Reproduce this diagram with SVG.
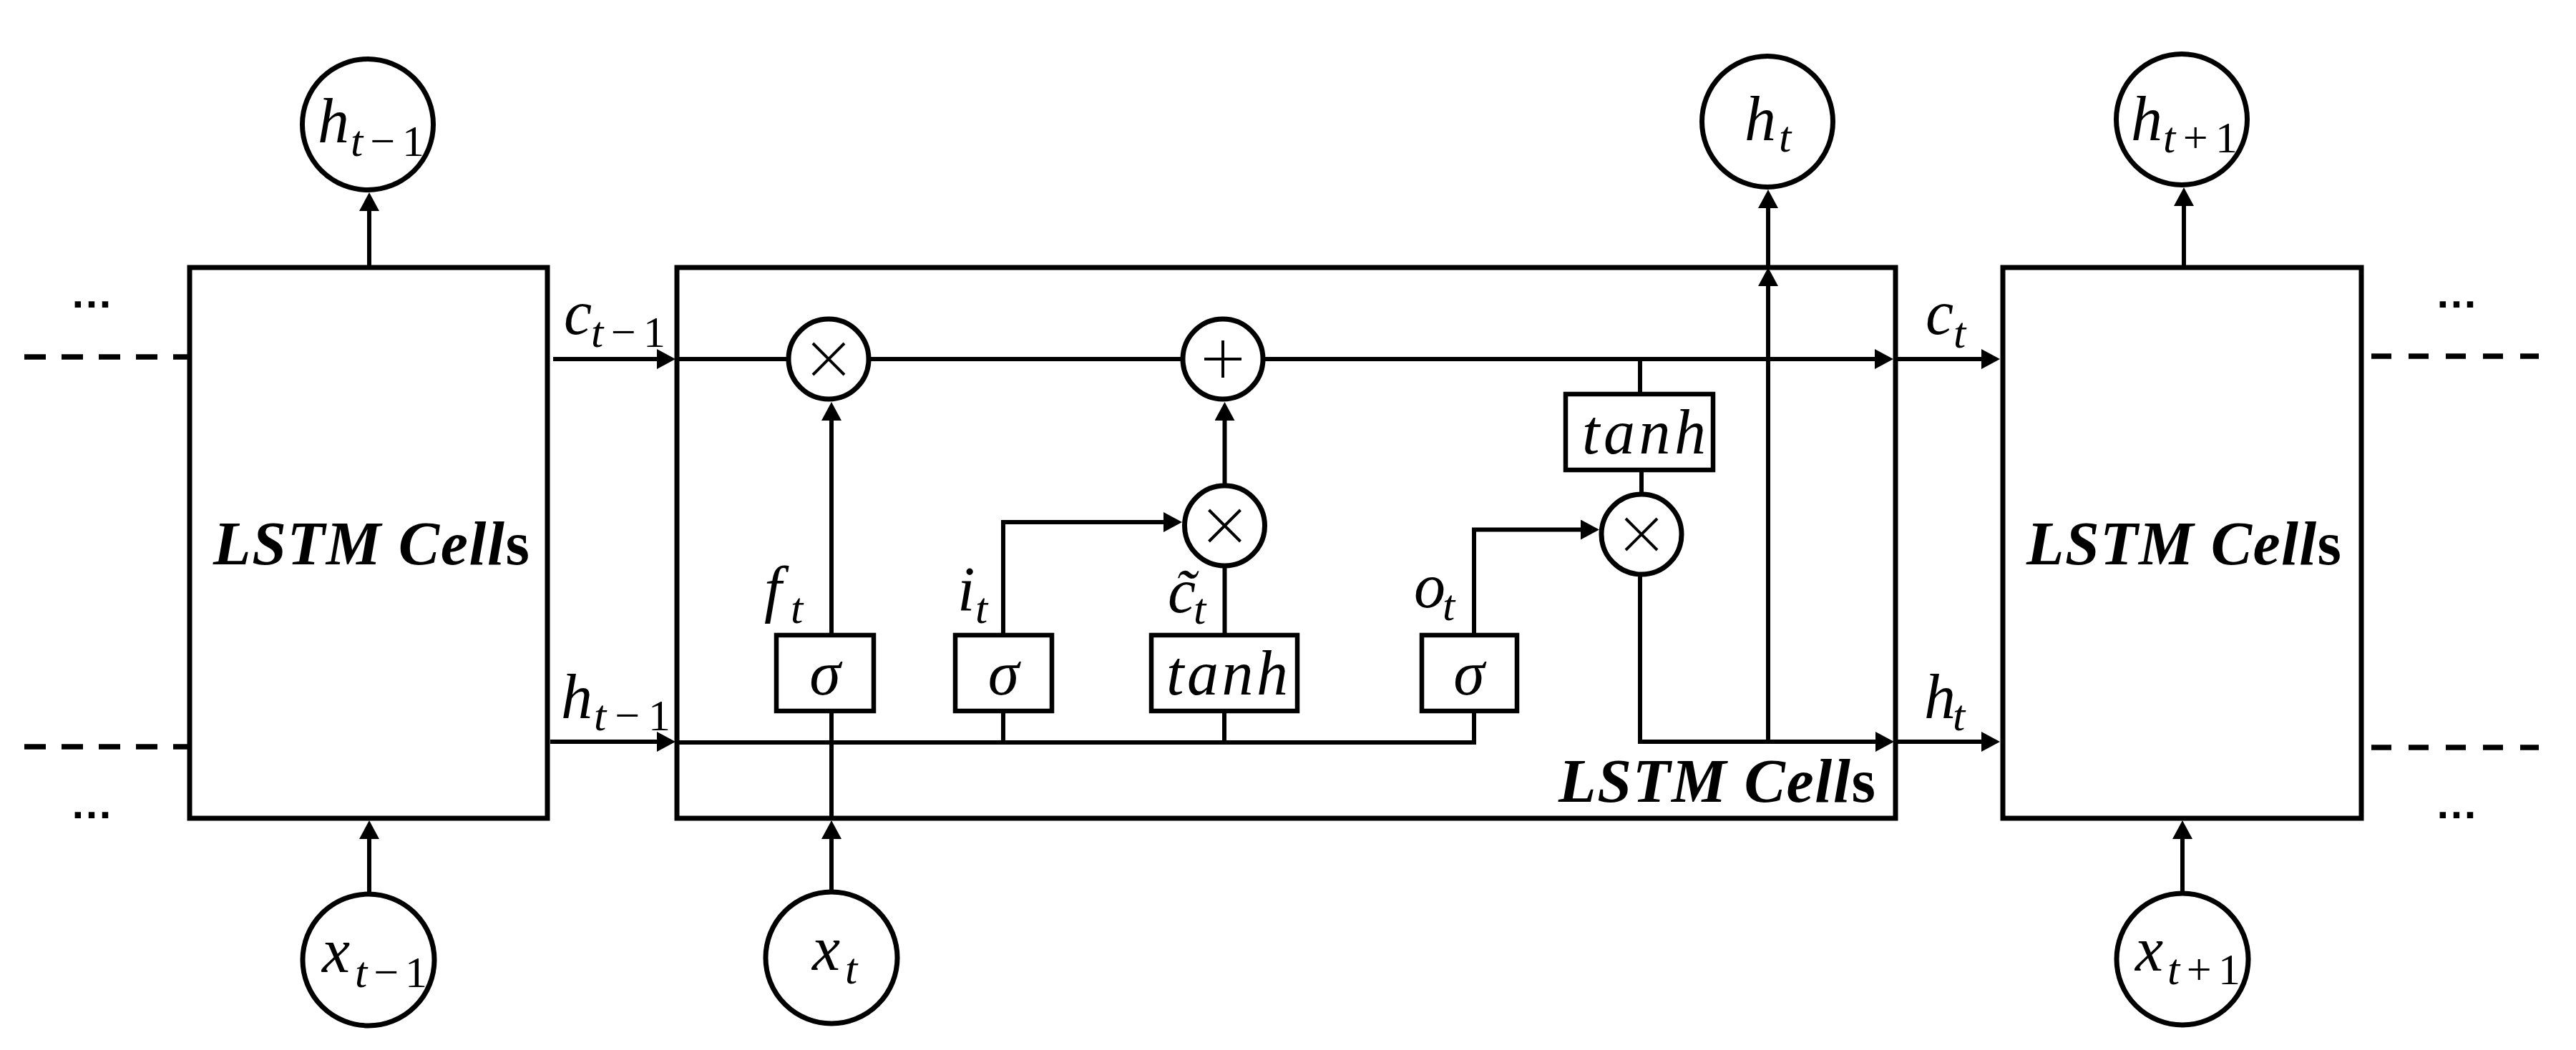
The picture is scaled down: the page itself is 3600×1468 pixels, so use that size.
<svg xmlns="http://www.w3.org/2000/svg" width="3600" height="1468" viewBox="0 0 3600 1468">
<style>
.cell{fill:none;stroke:#000;stroke-width:7}
.sbox{fill:#fff;stroke:#000;stroke-width:6.5}
.node{fill:#fff;stroke:#000;stroke-width:7}
.op{fill:none;stroke:#000;stroke-width:4}
.ln{fill:none;stroke:#000;stroke-width:6}
.dash{fill:none;stroke:#000;stroke-width:7.5}
.m{font-family:"Liberation Serif",serif;font-style:italic;font-size:88px;fill:#000}
.s{font-family:"Liberation Serif",serif;font-style:italic;font-size:62px;fill:#000}
.up{font-style:normal}
.lbl{font-family:"Liberation Serif",serif;font-style:italic;font-weight:bold;font-size:86px;fill:#000}
.dots{font-family:"Liberation Sans",sans-serif;font-weight:bold;font-size:60px;text-anchor:middle;fill:#000}
</style>
<defs>
<marker id="ah" markerUnits="userSpaceOnUse" markerWidth="26" markerHeight="28" refX="6" refY="14" orient="auto" viewBox="0 0 26 28"><path d="M0,0 L26,14 L0,28 Z" fill="#000"/></marker>
</defs>
<rect width="3600" height="1468" fill="#fff"/>

<g id="cell-left">
<rect class="cell" x="265" y="374" width="500" height="770"/>
<text class="lbl" x="298" y="789" textLength="442">LSTM Cell<tspan class="up">s</tspan></text>
</g>
<g id="cell-middle">
<rect class="cell" x="946" y="374" width="1703" height="770"/>
<text class="lbl" x="2178" y="1121" textLength="443">LSTM Cell<tspan class="up">s</tspan></text>
</g>
<g id="cell-right">
<rect class="cell" x="2799" y="374" width="501" height="770"/>
<text class="lbl" x="2832" y="789" textLength="440">LSTM Cell<tspan class="up">s</tspan></text>
</g>

<g id="connectors">
<path class="dash" d="M34,499 H264" stroke-dasharray="30 22"/>
<path class="dash" d="M34,1044 H264" stroke-dasharray="30 22"/>
<path class="dash" d="M3314,498 H3548" stroke-dasharray="28 24"/>
<path class="dash" d="M3314,1045 H3548" stroke-dasharray="28 24"/>
<path class="ln" d="M516,371 V289" marker-end="url(#ah)"/>
<path class="ln" d="M516,1247 V1167" marker-end="url(#ah)"/>
<path class="ln" d="M773,502 H924" marker-end="url(#ah)"/>
<path class="ln" d="M769,1037 H924" marker-end="url(#ah)"/>
<path class="ln" d="M946,502 H2626" marker-end="url(#ah)"/>
<path class="ln" d="M2650,502 H2775" marker-end="url(#ah)"/>
<path class="ln" d="M2650,1037 H2775" marker-end="url(#ah)"/>
<path class="ln" d="M946,1038 H2060 V994"/>
<path class="ln" d="M1402,1038 V994"/>
<path class="ln" d="M1711,1038 V997"/>
<path class="ln" d="M1162,1244 V1167" marker-end="url(#ah)"/>
<path class="ln" d="M1162,1147 V997"/>
<path class="ln" d="M1162,885 V582" marker-end="url(#ah)"/>
<path class="ln" d="M1402,885 V730 H1632" marker-end="url(#ah)"/>
<path class="ln" d="M1711.5,676 V582" marker-end="url(#ah)"/>
<path class="ln" d="M1711.5,885 V794"/>
<path class="ln" d="M2060,885 V740.5 H2215" marker-end="url(#ah)"/>
<path class="ln" d="M2292,502 V548"/>
<path class="ln" d="M2294,660 V688"/>
<path class="ln" d="M2292,806 V1037 H2627" marker-end="url(#ah)"/>
<path class="ln" d="M2471,1037 V394" marker-end="url(#ah)"/>
<path class="ln" d="M2471,374 V285" marker-end="url(#ah)"/>
<path class="ln" d="M3052,371 V282" marker-end="url(#ah)"/>
<path class="ln" d="M3050,1246 V1167" marker-end="url(#ah)"/>
</g>

<g id="edge-labels">
<text class="m" x="788" y="467">c</text><text class="s" x="826" y="485" textLength="104">t<tspan class="up">−1</tspan></text>
<text class="m" x="784" y="1004">h</text><text class="s" x="830" y="1021" textLength="107">t<tspan class="up">−1</tspan></text>
<text class="m" x="2691" y="467">c</text><text class="s" x="2730" y="486">t</text>
<text class="m" x="2689" y="1004">h</text><text class="s" x="2729" y="1021">t</text>
<text class="m" x="1068" y="853">f</text><text class="s" x="1105" y="871">t</text>
<text class="m" x="1338" y="853">i</text><text class="s" x="1363" y="871">t</text>
<text class="m" x="1632" y="856">c̃</text><text class="s" x="1668" y="872">t</text>
<text class="m" x="1976" y="849">o</text><text class="s" x="2016" y="867">t</text>
</g>

<g id="dots">
<text class="dots" x="128" y="430">…</text>
<text class="dots" x="128" y="1144">…</text>
<text class="dots" x="3433" y="430">…</text>
<text class="dots" x="3433" y="1144">…</text>
</g>

<g id="h-prev">
<circle class="node" cx="514" cy="174" r="91.5"/>
<text class="m" x="444" y="199">h</text><text class="s" x="490" y="218" textLength="103">t<tspan class="up">−1</tspan></text>
</g>
<g id="h-cur">
<circle class="node" cx="2470" cy="170" r="91.5"/>
<text class="m" x="2438" y="196">h</text><text class="s" x="2486" y="212">t</text>
</g>
<g id="h-next">
<circle class="node" cx="3049" cy="167" r="91.5"/>
<text class="m" x="2978" y="196">h</text><text class="s" x="3023" y="213" textLength="104">t<tspan class="up">+1</tspan></text>
</g>
<g id="x-prev">
<circle class="node" cx="515" cy="1342" r="92"/>
<text class="m" x="450" y="1359">x</text><text class="s" x="496" y="1380" textLength="101">t<tspan class="up">−1</tspan></text>
</g>
<g id="x-cur">
<circle class="node" cx="1162" cy="1339" r="92"/>
<text class="m" x="1135" y="1356">x</text><text class="s" x="1181" y="1375">t</text>
</g>
<g id="x-next">
<circle class="node" cx="3050" cy="1341" r="92"/>
<text class="m" x="2984" y="1357">x</text><text class="s" x="3029" y="1376" textLength="102">t<tspan class="up">+1</tspan></text>
</g>

<g id="mul-forget">
<circle class="node" cx="1158" cy="502" r="56"/>
<path class="op" d="M1136,480 L1180,524 M1180,480 L1136,524"/>
</g>
<g id="add-cell">
<circle class="node" cx="1709" cy="502" r="56"/>
<path class="op" d="M1683,502 H1735 M1709,476 V528"/>
</g>
<g id="mul-input">
<circle class="node" cx="1711.5" cy="735" r="56"/>
<path class="op" d="M1689.5,713 L1733.5,757 M1733.5,713 L1689.5,757"/>
</g>
<g id="mul-output">
<circle class="node" cx="2294" cy="747" r="56"/>
<path class="op" d="M2272,725 L2316,769 M2316,725 L2272,769"/>
</g>

<g id="sigma-f">
<rect class="sbox" x="1085" y="888" width="136" height="106"/>
<text class="m" x="1153" y="971" text-anchor="middle">σ</text>
</g>
<g id="sigma-i">
<rect class="sbox" x="1335" y="888" width="135" height="106"/>
<text class="m" x="1402.5" y="971" text-anchor="middle">σ</text>
</g>
<g id="tanh-c">
<rect class="sbox" x="1609" y="888" width="204" height="106"/>
<text class="m" x="1630" y="971" textLength="170">tanh</text>
</g>
<g id="sigma-o">
<rect class="sbox" x="1987" y="888" width="133" height="106"/>
<text class="m" x="2053" y="971" text-anchor="middle">σ</text>
</g>
<g id="tanh-h">
<rect class="sbox" x="2188" y="551" width="206" height="106"/>
<text class="m" x="2211" y="634" textLength="173">tanh</text>
</g>
</svg>
